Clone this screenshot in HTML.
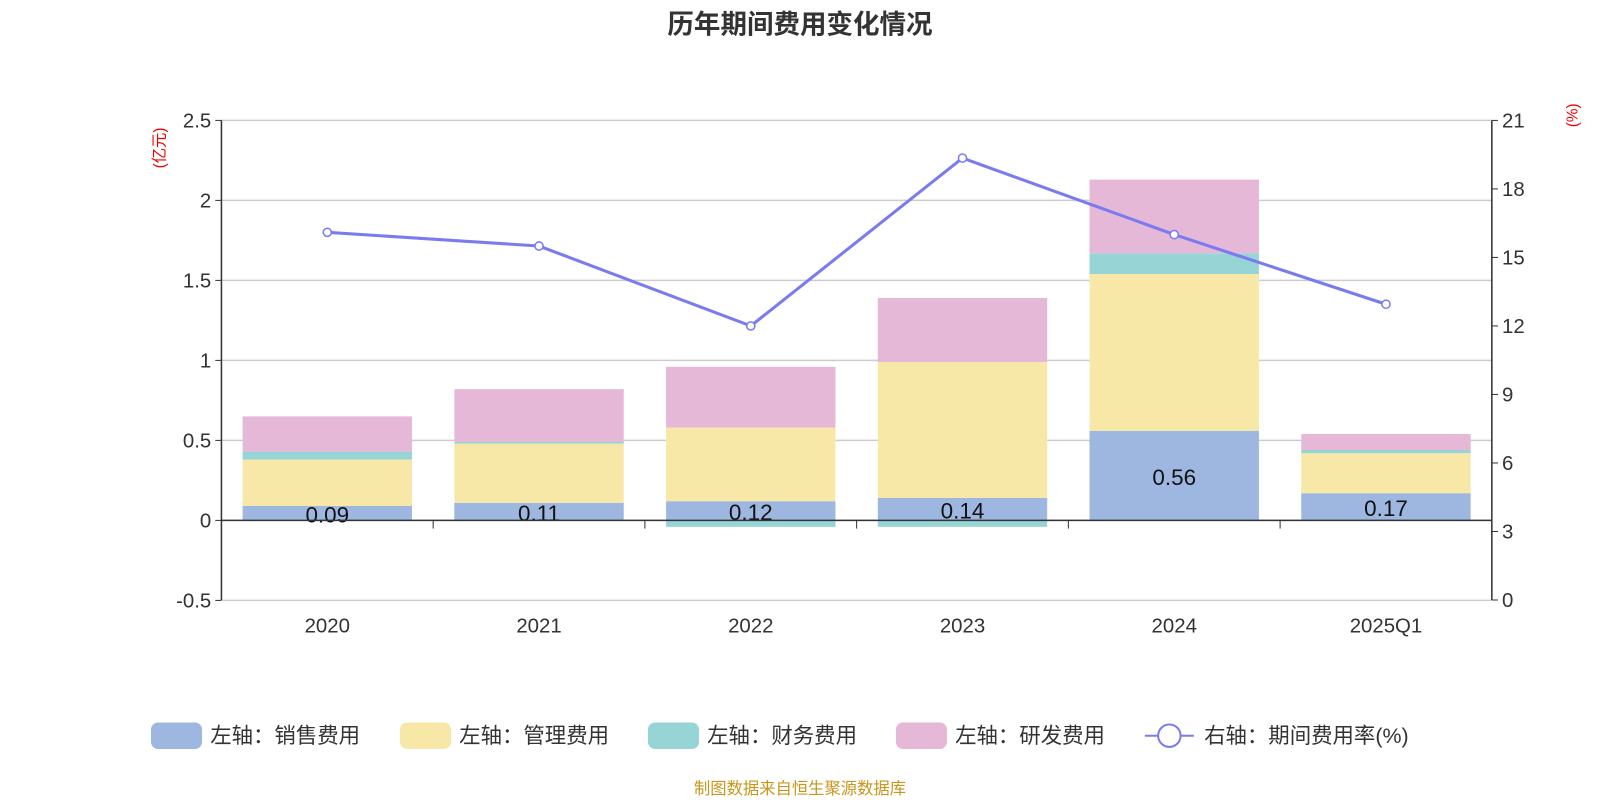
<!DOCTYPE html>
<html><head><meta charset="utf-8">
<style>
body{margin:0;background:#fff;width:1600px;height:800px;overflow:hidden;font-family:"Liberation Sans","Noto Sans CJK SC",sans-serif;}
svg text{font-family:"Liberation Sans","Noto Sans CJK SC",sans-serif;}
</style></head>
<body>
<svg id="chart" width="1600" height="800" viewBox="0 0 1568 784" xmlns="http://www.w3.org/2000/svg">
<text x="784" y="33" text-anchor="middle" font-size="26" font-weight="bold" fill="#333">历年期间费用变化情况</text>
<text transform="translate(161,145) rotate(-90)" text-anchor="middle" font-size="15" fill="#e00">(亿元)</text>
<text transform="translate(1546,113) rotate(-90)" text-anchor="middle" font-size="15" fill="#e00">(%)</text>
<g id="grid"></g><g id="bars"></g><g id="axes"></g><g id="line"></g>
<g id="legend"></g>
<text x="784" y="778" text-anchor="middle" font-size="16" fill="#c8961e">制图数据来自恒生聚源数据库</text>
</svg>
<script>
const categories=["2020","2021","2022","2023","2024","2025Q1"];
const sales=[0.09,0.11,0.12,0.14,0.56,0.17];
const mgmt=[0.29,0.37,0.46,0.85,0.98,0.25];
const finance=[0.05,0.01,-0.04,-0.04,0.13,0.02];
const rd=[0.22,0.33,0.38,0.40,0.46,0.10];
const rate=[16.1,15.5,12.0,19.35,16.0,12.95];
const leftTicks=[-0.5,0,0.5,1,1.5,2,2.5];
const rightTicks=[0,3,6,9,12,15,18,21];
const salesLabels=["0.09","0.11","0.12","0.14","0.56","0.17"];

const NS="http://www.w3.org/2000/svg";
const X0=217,X1=1462,Y0=118,Y1=588;
const yL=v=>510-(v)*156.8;
const yR=v=>Y1-v/21*(Y1-Y0);
const step=(X1-X0)/categories.length;
const xC=i=>X0+step*(i+0.5);
const BW=166;
function mk(tag,attrs,parent){const e=document.createElementNS(NS,tag);for(const k in attrs)e.setAttribute(k,attrs[k]);parent.appendChild(e);return e;}
const grid=document.getElementById('grid'),axes=document.getElementById('axes'),bars=document.getElementById('bars'),line=document.getElementById('line'),legend=document.getElementById('legend');
leftTicks.forEach(t=>{
  const g=mk('line',{x1:X0,x2:X1,y1:yL(t),y2:yL(t),stroke:'#ccc','stroke-width':1.5},grid);
  
  
  const tx=mk('text',{x:X0-10,y:yL(t)+7,'text-anchor':'end','font-size':20,fill:'#333'},axes);
  tx.textContent=t;
  
  
  mk('line',{x1:X0-6,x2:X0,y1:yL(t),y2:yL(t),stroke:'#333'},axes);
});
rightTicks.forEach(t=>{
  const tx=mk('text',{x:X1+10,y:yR(t)+7,'text-anchor':'start','font-size':20,fill:'#333'},axes);
  tx.textContent=t;
  
  
  mk('line',{x1:X1,x2:X1+6,y1:yR(t),y2:yR(t),stroke:'#333'},axes);
});
mk('line',{x1:X0,x2:X0,y1:Y0,y2:Y1,stroke:'#333','stroke-width':1.5},axes);
mk('line',{x1:X1,x2:X1,y1:Y0,y2:Y1,stroke:'#333','stroke-width':1.5},axes);
mk('line',{x1:X0,x2:X1,y1:yL(0),y2:yL(0),stroke:'#333','stroke-width':1.5},axes);
categories.forEach((c,i)=>{
  const tx=mk('text',{x:xC(i),y:620,'text-anchor':'middle','font-size':20,fill:'#333'},axes);
  tx.textContent=c;
  
  
  if(i>0)mk('line',{x1:X0+step*i,x2:X0+step*i,y1:yL(0),y2:yL(0)+8,stroke:'#333'},axes);
});
const series=[[sales,'#9db7e0','sales'],[mgmt,'#f8e8a8','mgmt'],[finance,'#96d4d6','finance'],[rd,'#e6b8d8','rd']];
categories.forEach((c,i)=>{
  let pos=0,neg=0;
  series.forEach(([arr,col,nm])=>{
    const v=arr[i];let a,b;
    if(v>=0){a=pos;b=pos+v;pos=b;}else{a=neg;b=neg+v;neg=b;}
    const r=mk('rect',{x:xC(i)-BW/2,y:Math.min(yL(a),yL(b)),width:BW,height:Math.abs(yL(a)-yL(b)),fill:col},bars);
    
    
  });
  const t=mk('text',{x:xC(i),y:yL(sales[i]/2)+9,'text-anchor':'middle','font-size':22,fill:'#111'},bars);
  t.textContent=salesLabels[i];
  
  
});
const pts=rate.map((v,i)=>xC(i)+','+yR(v)).join(' ');
const pl=mk('polyline',{points:pts,fill:'none',stroke:'#7b7bf0','stroke-width':3},line);


rate.forEach((v,i)=>{
  const p=mk('circle',{cx:xC(i),cy:yR(v),r:4,fill:'#fff',stroke:'#7b7bf0','stroke-width':1.5},line);
  
  
});
const leg=[['#9db7e0','左轴：销售费用',148],['#f8e8a8','左轴：管理费用',392],['#96d4d6','左轴：财务费用',635],['#e6b8d8','左轴：研发费用',878]];
leg.forEach(([col,txt,x])=>{
  const r=mk('rect',{x:x,y:708,width:50,height:26,rx:7,fill:col},legend);
  
  
  const t=mk('text',{x:x+58,y:728,'font-size':21,fill:'#333'},legend);t.textContent=txt;
});
mk('line',{x1:1122,x2:1170,y1:721,y2:721,stroke:'#7b7bf0','stroke-width':2},legend);
const lc=mk('circle',{cx:1146,cy:721,r:11,fill:'#fff',stroke:'#7b7bf0','stroke-width':2},legend);


const lt=mk('text',{x:1180,y:728,'font-size':21,fill:'#333'},legend);lt.textContent='右轴：期间费用率(%)';
</script>
</body></html>
